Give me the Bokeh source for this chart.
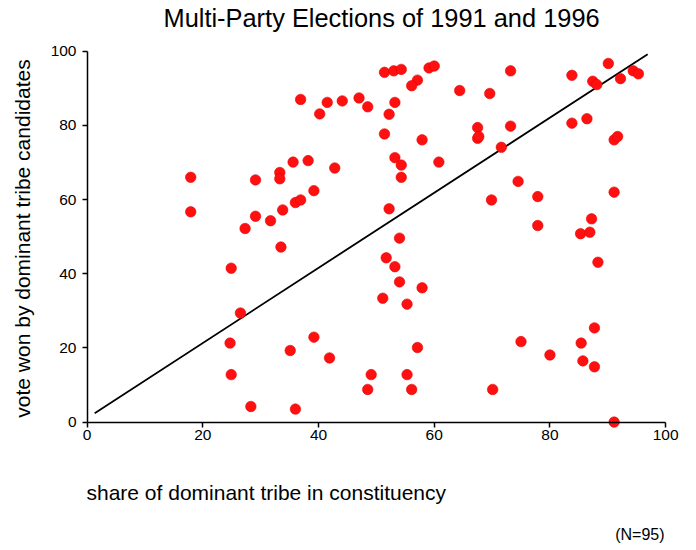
from bokeh.plotting import figure
from bokeh.models import Range1d, FixedTicker, LinearAxis, Title
from bokeh.embed import file_html
from bokeh.resources import INLINE

# share of dominant tribe in constituency (x) and vote won by dominant tribe candidates (y)
share = [17.9, 17.9, 24.9, 24.7, 24.9, 26.5, 27.3, 28.3, 29.1, 29.1,
         31.7, 33.3, 33.3, 33.8, 33.5, 35.6, 38.2, 36.0, 36.9, 39.2,
         42.8, 36.9, 40.2, 41.5, 44.1, 47.0, 48.5, 51.4, 53.0, 54.3,
         53.2, 52.2, 51.4, 53.2, 54.3, 54.3, 52.2, 54.0, 51.7, 53.2,
         54.0, 51.1, 55.3, 57.9, 57.1, 55.3, 56.1, 49.1, 48.5, 36.0,
         39.2, 35.1, 41.9, 59.1, 60.0, 57.1, 56.1, 73.2, 64.4, 69.6,
         83.8, 90.1, 94.4, 95.3, 92.2, 87.4, 88.1, 57.9, 67.5, 67.5,
         67.7, 73.2, 71.6, 83.8, 86.4, 91.1, 91.7, 60.8, 74.5, 77.9,
         69.9, 91.1, 77.9, 87.2, 85.3, 86.9, 88.3, 70.1, 75.0, 80.0,
         85.4, 85.7, 87.7, 87.7, 91.1]
vote = [66.0, 56.7, 41.5, 21.3, 12.8, 29.4, 52.2, 4.2, 65.3, 55.5,
        54.3, 67.3, 65.6, 57.2, 47.2, 70.1, 70.5, 59.2, 59.9, 62.4,
        68.5, 87.0, 83.1, 86.2, 86.6, 87.4, 85.0, 94.3, 94.7, 95.1,
        86.2, 83.0, 77.7, 71.3, 69.3, 66.0, 57.5, 49.6, 44.3, 41.9,
        37.8, 33.4, 31.8, 36.2, 20.1, 12.8, 8.8, 12.8, 8.8, 3.5,
        22.9, 19.3, 17.3, 95.5, 96.0, 92.2, 90.7, 94.7, 89.4, 88.6,
        93.5, 96.7, 94.7, 93.9, 92.6, 91.9, 91.0, 76.1, 79.4, 76.5,
        77.0, 79.8, 74.1, 80.6, 81.8, 76.1, 77.0, 70.1, 64.9, 60.8,
        59.9, 62.0, 53.0, 54.8, 50.8, 51.2, 43.1, 8.8, 21.7, 18.1,
        21.3, 16.5, 14.9, 25.4, 0.0]

# reference line
line_x = [1.3, 96.9]
line_y = [2.4, 99.2]

ticks = [0, 20, 40, 60, 80, 100]
title_text = "Multi-Party Elections of 1991 and 1996"
xlabel_text = "share of dominant tribe in constituency"
ylabel_text = "vote won by dominant tribe candidates"
note_text = "(N=95)"
FONT = "Liberation Sans"

p = figure(width=694, height=550, output_backend="svg", toolbar_location=None,
           x_range=Range1d(-1.5, 100.5), y_range=Range1d(-2, 101),
           min_border_left=78, min_border_right=26, min_border_top=47, min_border_bottom=120)

p.title.text = title_text
p.title.align = "left"
p.title.offset = 85
p.title.vertical_align = "bottom"
p.title.text_font = FONT
p.title.text_font_size = "25.4px"
p.title.text_font_style = "normal"
p.title.text_color = "black"
p.title.standoff = 0

p.xgrid.visible = False
p.ygrid.visible = False
p.outline_line_color = None

# label-only axes at the frame edges
for ax in (p.xaxis, p.yaxis):
    ax.ticker = FixedTicker(ticks=ticks)
    ax.axis_line_color = None
    ax.major_tick_line_color = None
    ax.minor_tick_line_color = None
    ax.major_tick_out = 0
    ax.major_tick_in = 0
    ax.major_label_text_font = FONT
    ax.major_label_text_font_size = "15.5px"
    ax.major_label_text_color = "black"
p.xaxis.major_label_standoff = 0
p.yaxis.major_label_standoff = 2
p.yaxis.axis_label = ylabel_text
p.yaxis.axis_label_text_font = FONT
p.yaxis.axis_label_text_font_size = "21px"
p.yaxis.axis_label_text_font_style = "normal"
p.yaxis.axis_label_text_color = "black"
p.yaxis.axis_label_standoff = 14
# invisible spacer below the x tick labels
p.xaxis.axis_label = "."
p.xaxis.axis_label_text_font_size = "2px"
p.xaxis.axis_label_text_alpha = 0
p.xaxis.axis_label_standoff = 20

# axis lines and ticks crossing at the origin
for side in ("below", "left"):
    ax = LinearAxis(fixed_location=0, bounds=(0, 100), ticker=FixedTicker(ticks=ticks),
                    major_tick_out=5, major_tick_in=0, minor_tick_line_color=None,
                    axis_line_width=1.5, major_tick_line_width=1.5,
                    axis_line_color="black", major_tick_line_color="black",
                    major_label_text_font_size="0px", major_label_text_alpha=0,
                    major_label_standoff=0)
    p.add_layout(ax, side)

p.line(line_x, line_y, line_color="black", line_width=1.8)
p.scatter(share, vote, marker="circle", size=10.5, fill_color="#ff1010",
          line_color="#e80000", line_width=0.6)

# invisible spacer between the frame and the title
p.add_layout(Title(text=" ", text_font_size="1px", standoff=13), "above")
p.add_layout(Title(text=xlabel_text, align="left", offset=8, standoff=24,
                   text_font=FONT, text_font_size="21px", text_font_style="normal",
                   text_color="black"), "below")
p.add_layout(Title(text=note_text, align="right", offset=4, standoff=16,
                   text_font=FONT, text_font_size="16px", text_font_style="normal",
                   text_color="black"), "below")

open("out.html", "w").write(file_html(p, INLINE))
